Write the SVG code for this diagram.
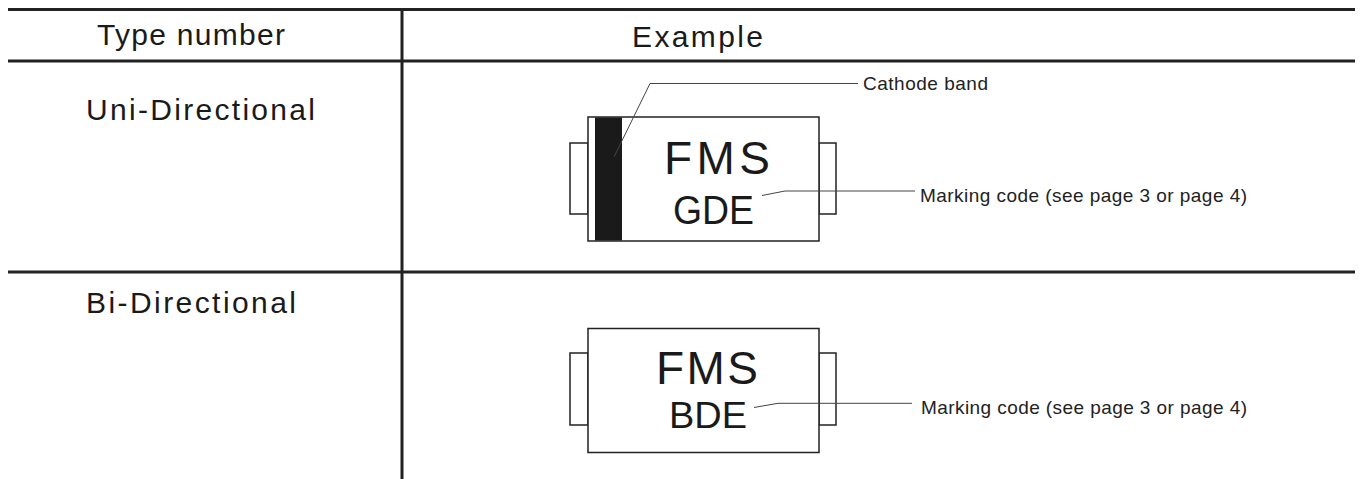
<svg xmlns="http://www.w3.org/2000/svg" width="1361" height="479" viewBox="0 0 1361 479">
<style>
.grid{stroke:#222;stroke-width:3;fill:none}
.body{stroke:#222;stroke-width:1.5;fill:#fff}
.lead{stroke:#444;stroke-width:1;fill:none}
.hdr{font-family:"Liberation Sans",Arial,sans-serif;font-size:30px;fill:#1a1a1a}
.big{font-family:"Liberation Sans",Arial,sans-serif;fill:#1a1a1a}
.lbl{font-family:"Liberation Sans",Arial,sans-serif;font-size:19px;fill:#222}
</style>
<rect width="1361" height="479" fill="#fff"/>
<g id="table">
<line class="grid" x1="8" y1="9.5" x2="1355" y2="9.5"/>
<line class="grid" x1="8" y1="61" x2="1355" y2="61"/>
<line class="grid" x1="8" y1="272" x2="1355" y2="272"/>
<line class="grid" x1="402" y1="9" x2="402" y2="479"/>
<text class="hdr" x="97" y="45" textLength="188" lengthAdjust="spacing">Type number</text>
<text class="hdr" x="632" y="46.5" textLength="131" lengthAdjust="spacing">Example</text>
<text class="hdr" x="86" y="119.5" textLength="229" lengthAdjust="spacing">Uni-Directional</text>
<text class="hdr" x="86" y="312.5" textLength="210" lengthAdjust="spacing">Bi-Directional</text>
</g>
<g id="uni-device">
<rect class="body" x="570" y="143" width="18" height="71"/>
<rect class="body" x="819" y="143" width="17" height="71"/>
<rect class="body" x="588" y="117" width="231" height="124"/>
<rect x="595" y="117.5" width="27" height="123" fill="#1a1a1a"/>
<text class="big" x="664" y="173.5" font-size="46" textLength="106" lengthAdjust="spacing">FMS</text>
<text class="big" x="673" y="223.5" font-size="40" textLength="81" lengthAdjust="spacingAndGlyphs">GDE</text>
</g>
<g id="bi-device">
<rect class="body" x="570" y="353" width="18" height="72"/>
<rect class="body" x="819" y="353" width="17" height="72"/>
<rect class="body" x="588" y="328.5" width="231" height="124"/>
<text class="big" x="656" y="384" font-size="46" textLength="102" lengthAdjust="spacing">FMS</text>
<text class="big" x="669" y="427.5" font-size="37" textLength="78" lengthAdjust="spacingAndGlyphs">BDE</text>
</g>
<g id="connectors">
<polyline class="lead" points="614,157 650,83.5 858,83.5"/>
<polyline class="lead" points="762,195.5 785,191 915,191"/>
<polyline class="lead" points="754,407.5 778,403.3 912,403.3"/>
</g>
<g id="labels">
<text class="lbl" x="863" y="90" textLength="125" lengthAdjust="spacing">Cathode band</text>
<text class="lbl" x="920" y="202" textLength="327" lengthAdjust="spacing">Marking code (see page 3 or page 4)</text>
<text class="lbl" x="921" y="413.5" textLength="326" lengthAdjust="spacing">Marking code (see page 3 or page 4)</text>
</g>
</svg>
